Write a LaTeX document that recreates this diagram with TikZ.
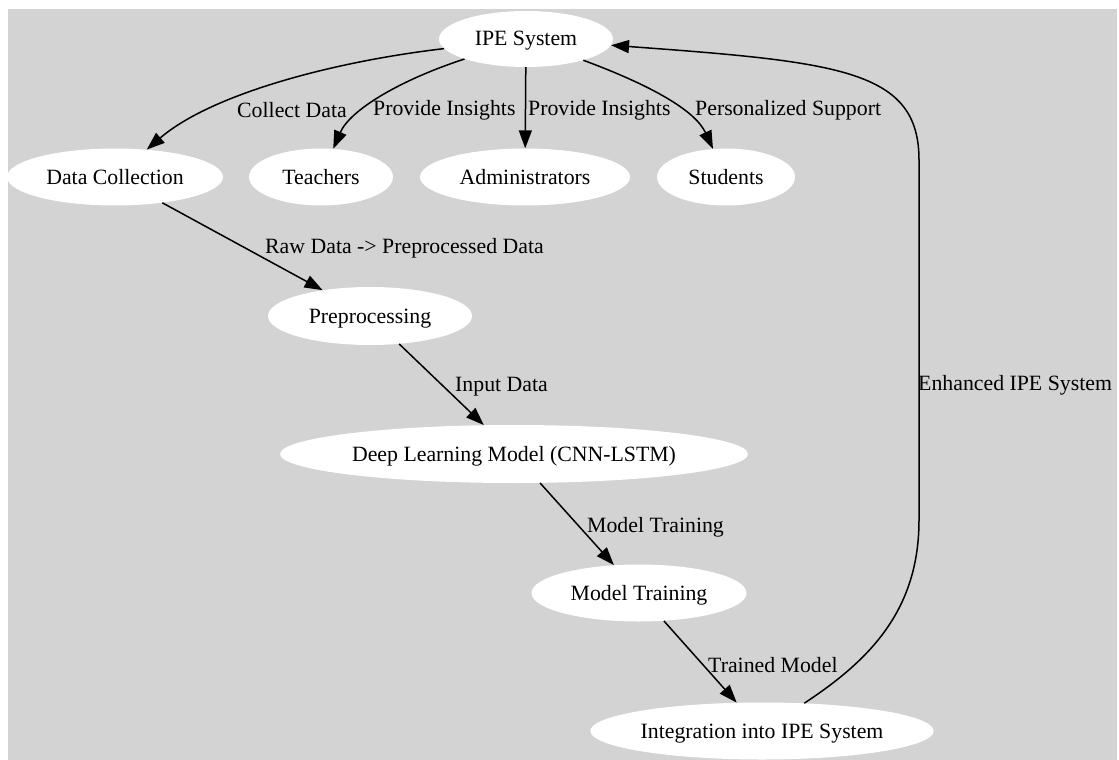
\documentclass[tikz,border=0pt]{standalone}
\usepackage{fontspec}
\setmainfont{Liberation Serif}
\usetikzlibrary{arrows.meta,shapes.geometric}
\definecolor{bggray}{HTML}{D3D3D3}
\tikzset{
  state/.style={ellipse, fill=white, draw=none, inner sep=0pt,
    minimum height=57pt, text height=14pt, text depth=0pt,
    font=\fontsize{21.8}{24}\selectfont},
  elabel/.style={anchor=west, inner sep=0pt, font=\fontsize{21.8}{24}\selectfont},
  flow/.style={line width=1.5pt, -{Triangle[length=18pt,width=13pt]}}
}
\begin{document}
\begin{tikzpicture}[x=1pt,y=-1pt]
  % canvas
  \fill[white] (0,0) rectangle (1119,760);
  \fill[bggray] (8,9) rectangle (1117,760);
  \useasboundingbox (0,0) rectangle (1119,760);

  % nodes
  \node[state, minimum width=174pt, minimum height=56pt] (ipe) at (526,39) {IPE System};
  \node[state, minimum width=216pt] (dc) at (115,177) {Data Collection};
  \node[state, minimum width=144pt] (teach) at (321,177) {Teachers};
  \node[state, minimum width=210pt] (admin) at (525,177) {Administrators};
  \node[state, minimum width=138pt] (stud) at (726,177) {Students};
  \node[state, minimum width=204pt, minimum height=58pt] (pre) at (370,316) {Preprocessing};
  \node[state, minimum width=468pt, minimum height=58pt] (dl) at (514,454) {Deep Learning Model (CNN-LSTM)};
  \node[state, minimum width=215pt] (mt) at (639,593) {Model Training};
  \node[state, minimum width=330pt] (integ) at (762,731) {Integration into IPE System};

  % connectors
  \draw[flow] (ipe) .. controls (330,62) and (210,95) .. (dc);
  \draw[flow] (ipe) .. controls (400,80) and (350,110) .. (teach);
  \draw[flow] (ipe) -- (admin);
  \draw[flow] (ipe) .. controls (650,85) and (695,110) .. (stud);
  \draw[flow] (dc) -- (pre);
  \draw[flow] (pre) -- (dl);
  \draw[flow] (dl) -- (mt);
  \draw[flow] (mt) -- (integ);
  \draw[flow] (integ) .. controls (870,660) and (919,610) .. (919,520)
    -- (919,160) .. controls (919,70) and (840,62) .. (ipe);

  % connector labels
  \node[elabel] (lcollect) at (237,110) {Collect Data};
  \node[elabel] (lteach) at (373,110) {Provide Insights};
  \node[elabel] (ladmin) at (528,110) {Provide Insights};
  \node[elabel] (lstud) at (695,110) {Personalized Support};
  \node[elabel] (lraw) at (265,248) {Raw Data -> Preprocessed Data};
  \node[elabel] (linput) at (455,387) {Input Data};
  \node[elabel] (ltrain) at (587,527) {Model Training};
  \node[elabel] (ltrained) at (708,665) {Trained Model};
  \node[elabel] (lenh) at (918,385) {Enhanced IPE System};
\end{tikzpicture}
\end{document}
